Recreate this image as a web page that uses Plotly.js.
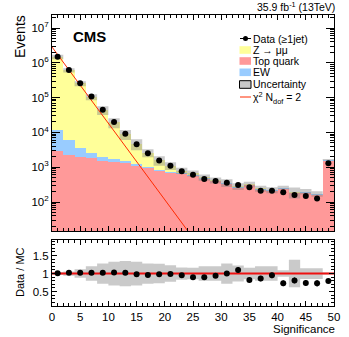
<!DOCTYPE html>
<html><head><meta charset="utf-8">
<script src="https://cdn.plot.ly/plotly-3.0.1.min.js"></script>
<style>html,body{margin:0;padding:0;background:#fff}#chart{width:349px;height:337px}</style>
</head><body><div id="chart"></div>
<script>
// ---- data ----
const binCenters = [1,3,5,7,9,11,13,15,17,19,21,23,25,27,29,31,33,35,37,39,41,43,45,47,49];
const xTickVals = [0,5,10,15,20,25,30,35,40,45,50];
const yTickVals = [1e2,1e3,1e4,1e5,1e6,1e7];
const yTickText = ['10<sup>2</sup>','10<sup>3</sup>','10<sup>4</sup>','10<sup>5</sup>','10<sup>6</sup>','10<sup>7</sup>'];
const rTickVals = [0.5,1,1.5];
const rTickText = ['0.5','1','1.5'];

const dataEvents = [1.5e6,6.2e5,2.6e5,1.07e5,4.5e4,2.0e4,9.1e3,4.6e3,2.5e3,1550,1100,760,605,460,400,360,310,265,211,211,190,158,148,127,1290];
const topQuark  = [2850,2250,2000,1800,1500,1450,1300,1100,950,800,700,630,560,460,390,330,258,300,225,205,240,178,183,158,1500];
const ewk       = [9100,3700,1600,750,420,260,210,100,60,45,35,30,25,20,18,15,13,12,11,10,10,9,9,8,60];
const zmumu     = [1.48e6,6.05e5,2.51e5,1.02e5,4.2e4,1.77e4,7.4e3,3.5e3,1.6e3,735,375,140,87,31,17,15,11,11,9,7,10,8,8,8,70];
const mcUncTop  = [0.15,0.14,0.16,0.2,0.28,0.32,0.32,0.35,0.26,0.3,0.25,0.2,0.2,0.2,0.2,0.25,0.22,0.18,0.2,0.2,0.12,0.35,0.18,0.18,0.05];

const ratio     = [1.01,1.02,1.02,1.02,1.02,1.03,1.02,0.98,0.96,0.98,0.99,0.95,0.90,0.90,0.94,1.0,1.1,0.82,0.86,0.95,0.73,0.81,0.74,0.73,0.79];
const ratioErr  = [0.005,0.005,0.006,0.008,0.01,0.012,0.015,0.02,0.025,0.03,0.035,0.04,0.045,0.05,0.05,0.06,0.08,0.07,0.075,0.08,0.08,0.08,0.08,0.09,0.03];
const ratioUnc  = [0.04,0.06,0.12,0.2,0.28,0.33,0.35,0.33,0.28,0.27,0.23,0.17,0.16,0.2,0.2,0.28,0.22,0.16,0.2,0.2,0.09,0.38,0.15,0.15,0.03];

const fitX = [0, 26];
const fitY = [2.85e6, 5.6];
const unityX = [0, 50];
const unityY = [1, 1];

// ---- derived ----
const edges = binCenters.map(c => c - 1).concat([binCenters[binCenters.length-1] + 1]);
const mcTotal = binCenters.map((_, i) => topQuark[i] + ewk[i] + zmumu[i]);
const rep = a => a.concat([a[a.length-1]]);
const topLo = rep(mcTotal.map((v,i) => v*(1-mcUncTop[i])));
const topHi = rep(mcTotal.map((v,i) => v*(1+mcUncTop[i])));
const rLo = rep(ratioUnc.map(u => 1-u));
const rHi = rep(ratioUnc.map(u => 1+u));

const FONT = 'Liberation Sans, Arial, Helvetica, sans-serif';
const cYellow = '#ffff99', cPink = '#ff9999', cBlue = '#99ccff';
const cUnc = 'rgba(128,128,128,0.42)';

const traces = [
  {type:'bar', x:binCenters, y:topQuark, width:2, marker:{color:cPink, line:{width:0}}, xaxis:'x', yaxis:'y', hoverinfo:'skip'},
  {type:'bar', x:binCenters, y:ewk, width:2, marker:{color:cBlue, line:{width:0}}, xaxis:'x', yaxis:'y', hoverinfo:'skip'},
  {type:'bar', x:binCenters, y:zmumu, width:2, marker:{color:cYellow, line:{width:0}}, xaxis:'x', yaxis:'y', hoverinfo:'skip'},
  {type:'scatter', mode:'lines', x:edges, y:topLo, line:{shape:'hv', width:0}, xaxis:'x', yaxis:'y', hoverinfo:'skip'},
  {type:'scatter', mode:'lines', x:edges, y:topHi, line:{shape:'hv', width:0}, fill:'tonexty', fillcolor:cUnc, xaxis:'x', yaxis:'y', hoverinfo:'skip'},
  {type:'scatter', mode:'lines', x:fitX, y:fitY, line:{color:'#ff2a00', width:1}, xaxis:'x', yaxis:'y', hoverinfo:'skip'},
  {type:'scatter', mode:'markers', x:binCenters, y:dataEvents, marker:{color:'#000', size:6}, xaxis:'x', yaxis:'y', hoverinfo:'skip'},
  {type:'scatter', mode:'lines', x:edges, y:rLo, line:{shape:'hv', width:0}, xaxis:'x2', yaxis:'y2', hoverinfo:'skip'},
  {type:'scatter', mode:'lines', x:edges, y:rHi, line:{shape:'hv', width:0}, fill:'tonexty', fillcolor:cUnc, xaxis:'x2', yaxis:'y2', hoverinfo:'skip'},
  {type:'scatter', mode:'lines', x:unityX, y:unityY, line:{color:'#ee1111', width:2}, xaxis:'x2', yaxis:'y2', hoverinfo:'skip'},
  {type:'scatter', mode:'markers', x:binCenters, y:ratio, error_y:{type:'data', array:ratioErr, visible:true, color:'#000', thickness:1, width:0},
   marker:{color:'#000', size:6}, xaxis:'x2', yaxis:'y2', hoverinfo:'skip'}
];

// pixel -> paper helpers (plot area: x 52..334, y 15..306)
const L = 52, R = 15, T = 15, B = 31, W = 349, H = 337;
const pw = W - L - R, ph = H - T - B;
const px = x => (x - L) / pw;
const py = y => (H - B - y) / ph;

const baseAxis = {showgrid:false, zeroline:false, showline:true, linecolor:'#000', linewidth:1, mirror:'ticks', ticks:'inside', tickcolor:'#000'};

const annotations = [
  {text:'Events', x:px(20), y:py(37), xref:'paper', yref:'paper', textangle:-90, showarrow:false, xanchor:'center', yanchor:'middle', font:{family:FONT, size:14, color:'#000'}},
  {text:'Data / MC', x:px(20), y:py(272), xref:'paper', yref:'paper', textangle:-90, showarrow:false, xanchor:'center', yanchor:'middle', font:{family:FONT, size:11, color:'#000'}},
  {text:'Significance', x:px(336), y:py(322), xref:'paper', yref:'paper', showarrow:false, xanchor:'right', yanchor:'top', borderpad:0, font:{family:FONT, size:11.5, color:'#000'}},
  {text:'<b>CMS</b>', x:px(72), y:py(37), xref:'paper', yref:'paper', showarrow:false, xanchor:'left', yanchor:'middle', borderpad:0, font:{family:FONT, size:15, color:'#000'}},
  {text:'35.9 fb<sup>-1</sup> (13TeV)', x:px(336), y:py(6), xref:'paper', yref:'paper', showarrow:false, xanchor:'right', yanchor:'middle', borderpad:0, font:{family:FONT, size:10.5, color:'#000'}}
];
const legRows = [
  {t:'Data (\u22651jet)', y:38.5},
  {t:'Z \u2192 \u03bc\u03bc', y:50},
  {t:'Top quark', y:61},
  {t:'EW', y:72.3},
  {t:'Uncertainty', y:84},
  {t:'\u03c7<sup>2</sup> N<sub>dof</sub> = 2', y:98}
];
legRows.forEach(r => annotations.push({text:r.t, x:px(252), y:py(r.y), xref:'paper', yref:'paper', showarrow:false, xanchor:'left', yanchor:'middle', borderpad:0, font:{family:FONT, size:10.5, color:'#000'}}));

const shapes = [];
const box = (y, col, line) => shapes.push({type:'rect', xref:'paper', yref:'paper', x0:px(239.5), x1:px(251), y0:py(y-3.8), y1:py(y+3.8), fillcolor:col, line:line || {width:0}, layer:'above'});
box(50, cYellow); box(61, cPink); box(72.3, cBlue);
box(84.5, '#c8c8c8', {color:'#000', width:1});
shapes.push({type:'line', xref:'paper', yref:'paper', x0:px(240), x1:px(251), y0:py(38.5), y1:py(38.5), line:{color:'#000', width:1}, layer:'above'});
shapes.push({type:'circle', xref:'paper', yref:'paper', x0:px(243), x1:px(248), y0:py(36), y1:py(41), fillcolor:'#000', line:{width:0}, layer:'above'});
shapes.push({type:'line', xref:'paper', yref:'paper', x0:px(240), x1:px(251), y0:py(97), y1:py(97), line:{color:'#ff2a00', width:1}, layer:'above'});

const layout = {
  width:W, height:H, margin:{l:L, r:R, t:T, b:B, pad:0},
  paper_bgcolor:'#fff', plot_bgcolor:'#fff',
  showlegend:false, barmode:'stack', bargap:0,
  font:{family:FONT, size:12, color:'#000'},
  xaxis: Object.assign({}, baseAxis, {anchor:'y', range:[0,50], showticklabels:false, tickmode:'array', tickvals:xTickVals, ticklen:5,
    minor:{ticks:'inside', ticklen:3, dtick:1, tick0:0, tickcolor:'#000', showgrid:false}}),
  yaxis: Object.assign({}, baseAxis, {anchor:'x', domain:[py(231), 1], type:'log', range:[1.167, 7.374], tickmode:'array', tickvals:yTickVals, ticktext:yTickText, ticklen:8,
    tickfont:{family:FONT, size:11.5}, minor:{ticks:'inside', ticklen:4, dtick:'D1', tickcolor:'#000', showgrid:false}}),
  xaxis2: Object.assign({}, baseAxis, {anchor:'y2', range:[0,50], tickmode:'array', tickvals:xTickVals, ticklen:5, tickfont:{family:FONT, size:11.5},
    minor:{ticks:'inside', ticklen:3, dtick:1, tick0:0, tickcolor:'#000', showgrid:false}}),
  yaxis2: Object.assign({}, baseAxis, {anchor:'x2', domain:[0, py(240)], range:[0.1, 1.93], tickmode:'array', tickvals:rTickVals, ticktext:rTickText, ticklen:5,
    tickfont:{family:FONT, size:11.5}, minor:{ticks:'inside', ticklen:3, dtick:0.1, tick0:0, tickcolor:'#000', showgrid:false}}),
  annotations: annotations,
  shapes: shapes
};

Plotly.newPlot('chart', traces, layout, {staticPlot:true, displayModeBar:false});
</script>
</body></html>
